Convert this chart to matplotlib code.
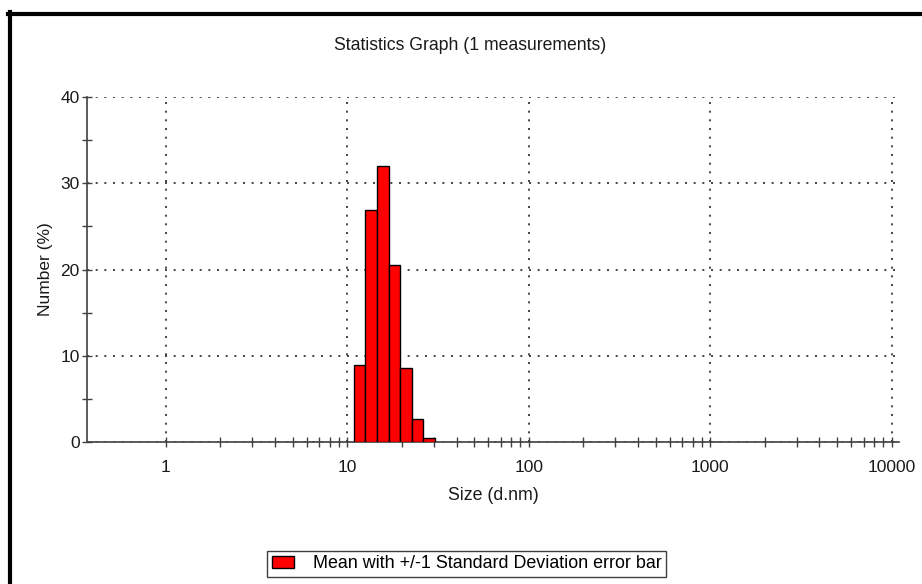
import matplotlib
matplotlib.use("Agg")
import matplotlib.pyplot as plt
from matplotlib.lines import Line2D
from matplotlib.patches import Patch
from matplotlib.ticker import FixedLocator, FixedFormatter, NullFormatter

# size classes (d.nm) and number distribution (%)
sizes = [11.70, 13.54, 15.69, 18.17, 21.04, 24.36, 28.21]
number = [8.9, 26.9, 32.0, 20.5, 8.6, 2.7, 0.5]
x_major = [1, 10, 100, 1000, 10000]
x_labels = ["1", "10", "100", "1000", "10000"]
y_major = [0, 10, 20, 30, 40]
y_minor = [5, 15, 25, 35]

ratio = 1.1583  # width of one size class on the log axis
lefts = [s / ratio ** 0.5 for s in sizes]
widths = [s * ratio ** 0.5 - s / ratio ** 0.5 for s in sizes]

plt.rcParams["font.family"] = ["Liberation Sans", "DejaVu Sans"]
fs = 12.5
txt = "#1a1a1a"

fig = plt.figure(figsize=(9.22, 5.84), dpi=100)
ax = fig.add_axes([87 / 922, 1 - 442 / 584, (899 - 87) / 922, (442 - 97) / 584])

ax.bar(lefts, number, width=widths, align="edge", color="#ff0000",
       edgecolor="black", linewidth=1.0, zorder=3)

ax.set_xscale("log")
ax.set_xlim(0.368, 10970)
ax.set_ylim(0, 40)

ax.xaxis.set_major_locator(FixedLocator(x_major))
ax.xaxis.set_major_formatter(FixedFormatter(x_labels))
x_minor = [m * 10 ** d for d in range(4) for m in range(2, 10)]
ax.xaxis.set_minor_locator(FixedLocator(x_minor))
ax.xaxis.set_minor_formatter(NullFormatter())
ax.yaxis.set_major_locator(FixedLocator(y_major))
ax.yaxis.set_minor_locator(FixedLocator(y_minor))

for side in ["top", "right"]:
    ax.spines[side].set_visible(False)
for side in ["left", "bottom"]:
    ax.spines[side].set_color("#404040")
    ax.spines[side].set_linewidth(1.2)

ax.tick_params(which="both", direction="inout", length=7.5, width=1.0,
               color="#404040", labelsize=fs, labelcolor=txt)
ax.tick_params(axis="x", which="major", pad=9)
ax.tick_params(axis="y", which="major", pad=1.5)

ax.grid(True, which="major", color="#262626", linewidth=1.2,
        linestyle=(0, (1.2, 4.0)), zorder=1)
ax.set_axisbelow(True)

ax.set_xlabel("Size (d.nm)", fontsize=fs + 0.3, color=txt, labelpad=9)
ax.set_ylabel("Number (%)", fontsize=fs, color=txt, labelpad=5.5)

fig.text(470 / 922, 1 - 45.5 / 584, "Statistics Graph (1 measurements)",
         ha="center", va="center", fontsize=fs + 0.2, color=txt)

fig.legend(handles=[Patch(facecolor="#ff0000", edgecolor="black", linewidth=1.0)],
           labels=["Mean with +/-1 Standard Deviation error bar"],
           loc="center", bbox_to_anchor=(466.5 / 922, 1 - 564 / 584),
           fontsize=fs + 0.4, frameon=True, fancybox=False, edgecolor="#404040",
           framealpha=1, borderpad=0.25, handlelength=1.25, handleheight=0.6,
           handletextpad=1.05, borderaxespad=0)

# outer border of the report panel
fig.add_artist(Line2D([8 / 922, 1.0], [1 - 14 / 584, 1 - 14 / 584],
                      transform=fig.transFigure, color="black", linewidth=3))
fig.add_artist(Line2D([9.5 / 922, 9.5 / 922], [0, 1 - 12 / 584],
                      transform=fig.transFigure, color="black", linewidth=3))

fig.savefig("out.png", dpi=100)
